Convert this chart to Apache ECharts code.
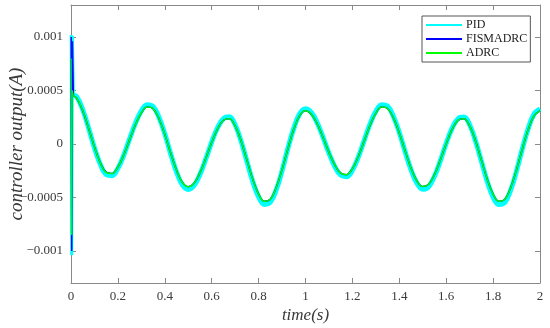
<!DOCTYPE html>
<html>
<head>
<meta charset="utf-8">
<script src="https://cdn.jsdelivr.net/npm/echarts@6/dist/echarts.min.js"></script>
<style>
html,body{margin:0;padding:0;background:#fff;}
#chart{width:550px;height:328px;}
</style>
</head>
<body>
<div id="chart"></div>
<script>
// ---- data ----
const seriesNames = ['PID', 'FISMADRC', 'ADRC'];

// initial spike (t in s)
const spikeT    = [0.001, 0.003, 0.006, 0.010];
const pidSpike  = [0.00102, -0.00104, 0.00101, 0.00046];
const fisSpike  = [0.00100, -0.00100, 0.00096, 0.00045];
const adrcSpike = [0.00080, -0.00085, 0.00050, 0.00045];

// main time base (s)
const timeS = [0.01, 0.025, 0.05, 0.075, 0.1, 0.125, 0.15, 0.175, 0.2, 0.225, 0.25, 0.275, 0.3, 0.325, 0.35, 0.375, 0.4,
  0.425, 0.45, 0.475, 0.5, 0.525, 0.55, 0.575, 0.6, 0.625, 0.65, 0.675, 0.7, 0.725, 0.75, 0.775, 0.8,
  0.825, 0.85, 0.875, 0.9, 0.925, 0.95, 0.975, 1.0, 1.025, 1.05, 1.075, 1.1, 1.125, 1.15, 1.175, 1.2,
  1.225, 1.25, 1.275, 1.3, 1.325, 1.35, 1.375, 1.4, 1.425, 1.45, 1.475, 1.5, 1.525, 1.55, 1.575, 1.6,
  1.625, 1.65, 1.675, 1.7, 1.725, 1.75, 1.775, 1.8, 1.825, 1.85, 1.875, 1.9, 1.925, 1.95, 1.975, 2.0];

const pidValues = [0.000460, 0.000440, 0.000322, 0.000150, -0.000036, -0.000190, -0.000285, -0.000296, -0.000228, -0.000105,
  0.000048, 0.000195, 0.000310, 0.000368, 0.000352, 0.000250, 0.000095, -0.000092, -0.000262, -0.000382,
  -0.000425, -0.000388, -0.000284, -0.000140, 0.000018, 0.000152, 0.000238, 0.000254, 0.000180, 0.000028,
  -0.000160, -0.000350, -0.000494, -0.000565, -0.000545, -0.000430, -0.000252, -0.000040, 0.000146, 0.000282,
  0.000330, 0.000296, 0.000198, 0.000062, -0.000085, -0.000212, -0.000292, -0.000306, -0.000245, -0.000124,
  0.000032, 0.000186, 0.000306, 0.000368, 0.000354, 0.000258, 0.000108, -0.000072, -0.000240, -0.000366,
  -0.000424, -0.000400, -0.000302, -0.000158, 0.000006, 0.000146, 0.000236, 0.000252, 0.000180, 0.000028,
  -0.000160, -0.000350, -0.000496, -0.000566, -0.000546, -0.000432, -0.000252, -0.000042, 0.000146, 0.000282,
  0.000328];

const fisValues = [0.000450, 0.000427, 0.000312, 0.000148, -0.000027, -0.000176, -0.000264, -0.000275, -0.000215, -0.000102,
  0.000041, 0.000182, 0.000291, 0.000346, 0.000331, 0.000239, 0.000090, -0.000085, -0.000246, -0.000359,
  -0.000399, -0.000366, -0.000270, -0.000133, 0.000014, 0.000142, 0.000222, 0.000236, 0.000169, 0.000030,
  -0.000150, -0.000330, -0.000468, -0.000535, -0.000516, -0.000409, -0.000240, -0.000044, 0.000137, 0.000265,
  0.000310, 0.000278, 0.000188, 0.000060, -0.000078, -0.000198, -0.000273, -0.000287, -0.000232, -0.000119,
  0.000027, 0.000174, 0.000289, 0.000346, 0.000332, 0.000245, 0.000103, -0.000066, -0.000226, -0.000345,
  -0.000398, -0.000377, -0.000287, -0.000150, 0.000002, 0.000136, 0.000221, 0.000236, 0.000169, 0.000030,
  -0.000150, -0.000330, -0.000469, -0.000536, -0.000516, -0.000409, -0.000240, -0.000044, 0.000137, 0.000265,
  0.000310];

const adrcValues = [0.000450, 0.000428, 0.000313, 0.000148, -0.000028, -0.000177, -0.000265, -0.000275, -0.000215, -0.000102,
  0.000041, 0.000182, 0.000292, 0.000347, 0.000331, 0.000239, 0.000090, -0.000085, -0.000246, -0.000360,
  -0.000400, -0.000366, -0.000270, -0.000133, 0.000014, 0.000142, 0.000222, 0.000236, 0.000169, 0.000030,
  -0.000150, -0.000330, -0.000469, -0.000536, -0.000516, -0.000409, -0.000240, -0.000044, 0.000137, 0.000265,
  0.000310, 0.000278, 0.000188, 0.000060, -0.000078, -0.000198, -0.000273, -0.000287, -0.000232, -0.000119,
  0.000027, 0.000174, 0.000289, 0.000346, 0.000332, 0.000245, 0.000103, -0.000066, -0.000226, -0.000345,
  -0.000398, -0.000377, -0.000287, -0.000150, 0.000002, 0.000136, 0.000221, 0.000236, 0.000169, 0.000030,
  -0.000150, -0.000330, -0.000469, -0.000536, -0.000516, -0.000409, -0.000240, -0.000044, 0.000137, 0.000265,
  0.000310];

// ticks
const xTickValues = [0, 0.2, 0.4, 0.6, 0.8, 1, 1.2, 1.4, 1.6, 1.8, 2];
const xTickLabels = ['0', '0.2', '0.4', '0.6', '0.8', '1', '1.2', '1.4', '1.6', '1.8', '2'];
const yTickValues = [-0.001, -0.0005, 0, 0.0005, 0.001];
const yTickLabels = ['\u22120.001', '\u22120.0005', '0', '0.0005', '0.001'];

// ---- build ----
function pairs(t, v) { return t.map((x, i) => [x, v[i]]); }
function lookup(vals, labels, v) {
  for (let i = 0; i < vals.length; i++) if (Math.abs(vals[i] - v) < 1e-9) return labels[i];
  return '';
}

const FONT = 'Liberation Serif';
const AXIS_COLOR = '#8a8a8a';
const LABEL_COLOR = '#3a3a3a';
const colors = { PID: '#00FFFF', FISMADRC: '#0000FF', ADRC: '#00FF00' };

const chart = echarts.init(document.getElementById('chart'), null, { renderer: 'canvas' });

const axisCommon = {
  axisLine: { show: true, onZero: false, lineStyle: { color: AXIS_COLOR, width: 1 } },
  axisTick: { show: true, inside: true, length: 5, lineStyle: { color: AXIS_COLOR } },
  splitLine: { show: false }
};

const option = {
  animation: false,
  backgroundColor: '#fff',
  grid: { left: 71, right: 10, top: 5, bottom: 45, containLabel: false, outerBoundsMode: 'none' },
  legend: {
    data: seriesNames,
    orient: 'vertical',
    left: 422,
    top: 16,
    padding: [2, 3, 2, 4],
    itemGap: 0,
    itemWidth: 36,
    itemHeight: 2,
    icon: 'rect',
    borderColor: '#555',
    borderWidth: 1,
    backgroundColor: '#fff',
    textStyle: { fontFamily: FONT, fontSize: 12, color: '#222', lineHeight: 14, padding: [0, 0, 0, -1] }
  },
  xAxis: [
    Object.assign({}, axisCommon, {
      type: 'value', min: 0, max: 2, interval: 0.2, position: 'bottom',
      name: 'time(s)', nameLocation: 'middle', nameGap: 24, nameMoveOverlap: false,
      nameTextStyle: { fontFamily: FONT, fontStyle: 'italic', fontSize: 17, color: LABEL_COLOR },
      axisLabel: { fontFamily: FONT, fontSize: 13, color: LABEL_COLOR, margin: 7,
        formatter: v => lookup(xTickValues, xTickLabels, v) }
    }),
    Object.assign({}, axisCommon, {
      type: 'value', min: 0, max: 2, interval: 0.2, position: 'top',
      axisLabel: { show: false }
    })
  ],
  yAxis: [
    Object.assign({}, axisCommon, {
      type: 'value', min: -0.0013, max: 0.0013, position: 'left',
      name: 'controller output(A)', nameLocation: 'middle', nameGap: 45, nameMoveOverlap: false,
      nameTextStyle: { fontFamily: FONT, fontStyle: 'italic', fontSize: 19, color: LABEL_COLOR },
      axisTick: { show: true, inside: true, length: 5, lineStyle: { color: AXIS_COLOR }, customValues: yTickValues },
      axisLabel: { fontFamily: FONT, fontSize: 13, color: LABEL_COLOR, margin: 8, customValues: yTickValues,
        formatter: v => lookup(yTickValues, yTickLabels, v) }
    }),
    Object.assign({}, axisCommon, {
      type: 'value', min: -0.0013, max: 0.0013, position: 'right',
      axisTick: { show: true, inside: true, length: 5, lineStyle: { color: AXIS_COLOR }, customValues: yTickValues },
      axisLabel: { show: false, customValues: yTickValues }
    })
  ],
  series: [
    { name: 'PID', type: 'line', data: pairs(timeS, pidValues), smooth: 0.4, showSymbol: false,
      lineStyle: { color: colors.PID, width: 5 }, itemStyle: { color: colors.PID }, z: 1 },
    { name: 'PID', type: 'line', data: pairs(spikeT, pidSpike), smooth: false, showSymbol: false,
      lineStyle: { color: colors.PID, width: 3 }, itemStyle: { color: colors.PID }, z: 1 },
    { name: 'FISMADRC', type: 'line', data: pairs(timeS, fisValues), smooth: 0.4, showSymbol: false,
      lineStyle: { color: colors.FISMADRC, width: 1.5 }, itemStyle: { color: colors.FISMADRC }, z: 2 },
    { name: 'FISMADRC', type: 'line', data: pairs(spikeT, fisSpike), smooth: false, showSymbol: false,
      lineStyle: { color: colors.FISMADRC, width: 1.5 }, itemStyle: { color: colors.FISMADRC }, z: 2 },
    { name: 'ADRC', type: 'line', data: pairs(timeS, adrcValues), smooth: 0.4, showSymbol: false,
      lineStyle: { color: colors.ADRC, width: 1.5 }, itemStyle: { color: colors.ADRC }, z: 3 },
    { name: 'ADRC', type: 'line', data: pairs(spikeT, adrcSpike), smooth: false, showSymbol: false,
      lineStyle: { color: colors.ADRC, width: 1 }, itemStyle: { color: colors.ADRC }, z: 3 }
  ]
};

chart.setOption(option);
</script>
</body>
</html>
